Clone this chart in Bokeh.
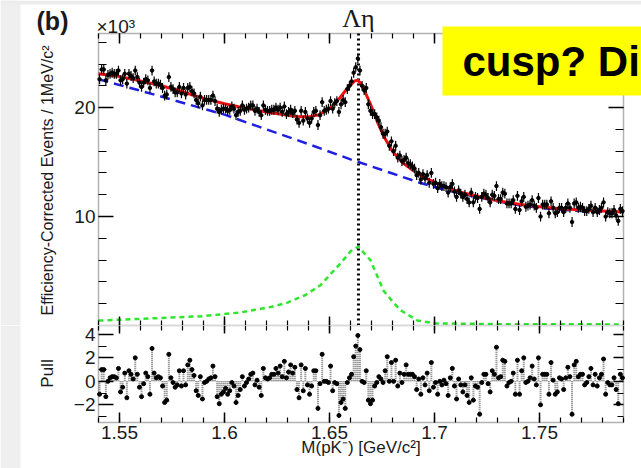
import numpy as np
from bokeh.plotting import figure
from bokeh.models import Range1d, LinearAxis, FixedTicker, Label, BoxAnnotation, ColumnDataSource
from bokeh.layouts import column
from bokeh.embed import file_html
from bokeh.resources import INLINE

# ---------------- data ----------------
bin_low = 1.540      # GeV/c^2, left edge of first bin
bin_width = 0.001    # 1 MeV bins

# efficiency-corrected events per MeV (x10^3)
counts = [
    22.6, 23.5, 23.5, 22.5, 23.0, 23.1, 23.2, 23.1, 23.1, 23.4, 22.5,
    22.6, 23.1, 22.2, 23.1, 22.9, 22.7, 23.4, 22.8, 22.3, 21.9, 22.3, 22.6, 22.5, 21.8, 23.4,
    22.4, 22.2, 22.2, 22.1, 21.8, 21.1, 21.2, 22.8, 21.9, 21.7,
    21.4, 21.4, 21.9, 21.3, 21.8, 21.2, 21.8, 21.9, 21.5, 21.3, 20.7, 20.4, 21.0, 20.2,
    20.7, 20.7, 20.7, 20.7, 21.1, 20.6, 19.9, 19.6, 19.8, 19.9, 19.9,
    19.7, 19.8, 20.1, 19.9, 19.3, 19.6, 19.7, 20.2, 19.8, 19.9, 20.0, 20.2, 20.2, 19.7, 19.9, 19.6,
    19.3, 20.2, 19.8, 19.7, 19.7, 19.8, 19.8, 20.0, 19.8, 20.0, 19.6, 20.1, 19.4, 19.6, 19.8, 19.5,
    19.7, 18.9, 18.6, 19.7, 18.8, 19.6, 19.0, 18.6,
    19.0, 19.6, 19.7, 18.4, 19.3,
    20.5, 19.7, 19.8, 19.9, 20.6, 19.9,
    20.4, 20.6, 19.6, 20.3, 20.7,
    20.5, 21.7, 22.0, 22.4, 23.2,
    23.7, 24.5,
    23.4, 22.0, 21.6, 21.8,
    20.3, 19.7, 19.4, 19.4, 19.1,
    18.8, 18.2, 17.6,
    17.6, 17.8, 16.5,
    16.9, 16.0, 16.5, 15.4, 15.6,
    15.1, 15.2, 15.4, 14.9, 14.8, 14.6, 14.4,
    13.8, 14.0, 13.4, 13.9, 13.5, 13.8,
    13.1, 14.0, 13.0, 13.1, 12.6, 13.0, 12.8, 12.8,
    12.7, 12.2, 12.7, 13.0, 12.3, 11.8, 12.4, 12.1, 11.8,
    12.0, 11.6, 11.3, 12.2, 11.3, 11.8, 11.7, 10.7, 11.8, 12.1, 12.0, 11.7, 11.3,
    12.0, 11.9, 12.8, 11.6, 11.6, 12.2, 12.1, 11.2, 11.2, 11.2, 11.5, 10.7, 11.9, 10.6, 11.4,
    11.8, 10.9, 11.0, 11.1, 11.5, 11.0, 10.8, 11.7, 10.0, 11.1, 11.1, 11.1, 10.3, 11.4, 10.8,
    10.3, 10.4, 10.8, 10.8,
    10.4, 10.8, 11.2, 10.8, 9.5, 11.2, 11.3, 10.8, 10.9, 10.8, 10.5, 10.5, 10.7, 11.0, 10.4,
    10.8, 10.4, 10.6, 10.8, 11.3, 10.0, 10.4, 10.3, 10.3, 10.6, 10.1, 9.6, 10.7, 10.5,
]
count_err = 0.45  # typical error bar half-length (x10^3)

pulls = [
    -1.1, 1.0, 1.0, -1.3, 0.0, 0.3, 0.4, 0.4, 0.3, 1.1,
    -0.9, -0.5, 0.7, -1.4, 0.9, 0.6, 0.2, 2.0, 0.6, -0.5, -1.3,
    -0.2, 0.7, 0.4, -1.1, 2.8, 0.7, 0.3, 0.4, 0.3, -0.4, -1.8,
    -1.6, 2.3, 0.3, -0.1, -0.5, -0.3, 0.9, -0.4, 0.9, -0.3,
    1.4, 1.8, 1.0, 0.5, -0.8, -1.2, 0.4, -1.5, -0.1, 0.0, 0.2,
    0.3, 1.3, 0.4, -1.3, -1.9, -1.1, -0.9, -0.6, -1.1, -0.8, -0.1,
    -0.4, -1.8, -1.2, -0.7, 0.4, -0.4, -0.1, 0.2, 0.6, 0.7,
    -0.3, 0.1, -0.5, -1.2, 1.1, 0.3, 0.2, 0.3, 0.6, 0.6, 1.1,
    0.7, 1.3, 0.4, 1.7, 0.3, 0.8, 1.4, 0.7, 1.2, -0.7, -1.4,
    1.4, -0.8, 1.1, -0.3, -1.1, -0.4, 0.9, 0.9, -2.3, -0.2, 2.3,
    0.0, 0.0, -0.1, 1.3, -0.8, -0.1, -0.2, -2.9, -1.8, -1.5,
    -2.3, -0.1, 0.3, 0.6, 2.1, 3.0, 3.9,
    2.7, 0.0, -0.1, 0.9, -1.6, -1.9, -1.6, -0.4, -0.1, 0.4,
    0.2, -0.1, 0.9, 2.1, 0.0, 1.6, 0.0, 1.8, -0.4, 0.7,
    -0.1, 0.6, 1.4, 0.6, 0.6, 0.6, 0.4, -0.7, 0.2, -1.1, 0.3,
    -0.3, 0.7, -0.8, 1.6, -0.5, -0.1, -1.1, 0.0, -0.3, 0.1,
    -0.2, -1.2, 0.3, 1.1, -0.4, -1.5, 0.2, -0.3, -0.9, -0.3,
    -1.2, -1.8, 0.3, -1.6, -0.4, -0.5, -2.8, -0.1, 0.6, 0.6, -0.2,
    -0.9, 0.9, 0.6, 2.9, 0.3, 0.4, 1.8, 1.7, -0.4, -0.1,
    0.0, 0.7, -1.1, 1.8, -1.1, 0.9, 2.0, -0.1, 0.0, 0.3,
    1.3, 0.2, -0.3, 2.0, -2.0, 0.6, 0.6, 0.6, -1.1, 1.6, 0.1,
    -1.1, -0.9, 0.3, 0.2, -0.7, 0.3, 1.2, 0.4, -2.8, 1.4,
    1.7, 0.4, 0.6, 0.6, -0.3, -0.1, 0.4, 1.1, -0.3, 0.6, -0.4,
    0.3, 0.6, 1.9, -1.1, -0.1, -0.3, -0.3, 0.3, -0.7, -1.9,
    0.6, 0.3,
]

# total fit (red)
fit_mass = [1.540, 1.550, 1.560, 1.570, 1.580, 1.590, 1.600, 1.610, 1.620, 1.630, 1.635,
            1.640, 1.645, 1.650, 1.655, 1.659, 1.662, 1.6635, 1.665, 1.667, 1.670, 1.673,
            1.676, 1.680, 1.685, 1.690, 1.696, 1.704, 1.713, 1.722, 1.730, 1.741, 1.750,
            1.760, 1.775, 1.790]
fit_total = [23.1, 22.85, 22.45, 22.0, 21.45, 20.85, 20.35, 19.95, 19.6, 19.3, 19.15,
             19.15, 19.35, 19.9, 20.9, 21.9, 22.45, 22.5, 22.2, 21.4, 20.1, 18.6,
             17.3, 16.0, 14.9, 14.2, 13.5, 12.8, 12.2, 11.8, 11.45, 11.1, 10.9,
             10.72, 10.55, 10.42]

# background (blue dashed)
bkg_mass = [1.540, 1.560, 1.580, 1.600, 1.620, 1.640, 1.660, 1.680, 1.693, 1.703, 1.713,
            1.722, 1.730, 1.741, 1.750, 1.760, 1.775, 1.790]
bkg_total = [22.6, 21.55, 20.45, 19.35, 18.0, 16.65, 15.25, 13.95, 13.1, 12.55, 12.1,
             11.72, 11.4, 11.02, 10.8, 10.62, 10.45, 10.32]

# signal (green dashed)
sig_mass = [1.540, 1.565, 1.589, 1.6076, 1.622, 1.630, 1.6386, 1.6457, 1.6552, 1.660,
            1.6638, 1.6662, 1.6695, 1.6757, 1.680, 1.6838, 1.6919, 1.700, 1.731, 1.790]
sig_total = [0.45, 0.65, 0.85, 1.2, 1.7, 2.1, 2.8, 3.7, 5.7, 6.8,
             7.25, 6.7, 6.0, 3.2, 2.2, 1.4, 0.46, 0.2, 0.12, 0.1]

threshold = 1.6638  # Lambda-eta threshold

x_ticks = [1.55, 1.60, 1.65, 1.70, 1.75]
x_tick_labels = ["1.55", "1.6", "1.65", "1.7", "1.75"]
x_minor = [round(1.54 + 0.01 * k, 2) for k in range(26)]
y_ticks = [10, 20]
y_tick_labels = ["10", "20"]
y_minor = list(range(2, 27, 2))
pull_ticks = [-2, 0, 2, 4]
pull_tick_labels = ["\u22122", "0", "2", "4"]
pull_minor = [-3, -1, 1, 3]

# ---------------- layout (pixels) ----------------
W, H = 641, 468
FRAME_L, FRAME_R = 98, 623
UP_T, UP_B, LO_B = 33, 325, 422
x_lo, x_hi = 1.54, 1.79
y_lo, y_hi = 0.0, 26.8
p_lo, p_hi = -3.5, 4.75

sx = (FRAME_R - FRAME_L) / (x_hi - x_lo)
X0, X1 = x_lo - FRAME_L / sx, x_hi + (W - FRAME_R) / sx
sy1 = (UP_B - UP_T) / (y_hi - y_lo)
Y0, Y1 = y_lo, y_hi + UP_T / sy1
sy2 = (LO_B - UP_B) / (p_hi - p_lo)
P0, P1 = p_lo - (H - LO_B) / sy2, p_hi


def gx(px):
    return X0 + px / sx


def gy1(py):
    return Y1 - py / sy1


def gy2(py):
    return P1 - (py - UP_B) / sy2


FONT = "Liberation Sans"
TXT = "#1a1a1a"

mass = bin_low + bin_width * (np.arange(len(counts)) + 0.5)
cnt = np.array(counts)
pl = np.array(pulls)
src = ColumnDataSource(dict(mass=mass, cnt=cnt, lo=cnt - count_err, hi=cnt + count_err,
                            xl=mass - bin_width / 2, xr=mass + bin_width / 2,
                            pull=pl, zero=np.zeros_like(pl)))


def make_axis(loc, ticks, minor, tick_in, minor_in, labels=None, size="19px"):
    ax = LinearAxis(fixed_location=loc, ticker=FixedTicker(ticks=ticks, minor_ticks=minor))
    ax.major_tick_in = tick_in
    ax.major_tick_out = 0
    ax.minor_tick_in = minor_in
    ax.minor_tick_out = 0
    ax.axis_line_color = None
    ax.major_tick_line_color = "black"
    ax.major_tick_line_width = 1.5
    ax.minor_tick_line_color = "black"
    ax.minor_tick_line_width = 1.2
    ax.major_label_text_font = FONT
    ax.major_label_text_font_size = size
    ax.major_label_text_color = TXT
    ax.major_label_standoff = 3
    ax.major_label_overrides = {t: (l if labels else "") for t, l in
                                zip(ticks, labels if labels else ticks)}
    return ax


def base_fig(h, y0, y1):
    f = figure(width=W, height=h, x_range=Range1d(X0, X1), y_range=Range1d(y0, y1),
               x_axis_type=None, y_axis_type=None, output_backend="svg",
               toolbar_location=None, min_border=0, min_border_left=0, min_border_right=0,
               min_border_top=0, min_border_bottom=0)
    f.outline_line_color = None
    f.background_fill_color = "white"
    f.border_fill_color = "white"
    f.add_layout(BoxAnnotation(left=X0, right=gx(20), fill_color="#efefef", fill_alpha=1,
                               line_color=None, level="underlay"))
    return f


# ---------------- upper panel ----------------
p1 = base_fig(UP_B, Y0, Y1)
p1.add_layout(BoxAnnotation(bottom=gy1(4), fill_color="#ececec", fill_alpha=1,
                            line_color=None, level="underlay"))
p1.add_layout(make_axis(x_lo, y_ticks, y_minor, 15, 8, y_tick_labels), "left")
p1.add_layout(make_axis(x_hi, y_ticks, y_minor, 15, 8), "right")
p1.add_layout(make_axis(y_hi, x_ticks, x_minor, 10, 5), "above")
p1.add_layout(make_axis(y_lo, x_ticks, x_minor, 9, 5), "below")

p1.line(bkg_mass, bkg_total, line_color="#1f1fe0", line_width=2.5, line_dash="10 6")
p1.line(sig_mass, sig_total, line_color="#2ee62e", line_width=2.5, line_dash="5 4")
p1.segment(x0=[threshold], y0=[y_lo], x1=[threshold], y1=[y_hi], line_color="black",
           line_width=3, line_dash="2 3")
p1.line(fit_mass, fit_total, line_color="#ee1111", line_width=3)
p1.segment(x0="mass", y0="lo", x1="mass", y1="hi", source=src, line_color="black",
           line_width=1.2)
p1.segment(x0="xl", y0="cnt", x1="xr", y1="cnt", source=src, line_color="black",
           line_width=1.2)
p1.scatter("mass", "cnt", source=src, size=3.5, color="black")

p1.add_layout(BoxAnnotation(left=x_lo, right=x_hi, bottom=y_lo, top=y_hi, fill_color=None,
                            line_color="black", line_width=1.5))

p1.add_layout(Label(x=gx(47), y=gy1(180), angle=np.pi / 2,
                    text="Efficiency-Corrected Events / 1MeV/c\u00b2", text_font=FONT,
                    text_font_size="16px", text_align="center", text_baseline="middle",
                    text_color=TXT))
p1.add_layout(Label(x=gx(52), y=gy1(20), text="(b)", text_font=FONT, text_font_size="25px",
                    text_font_style="bold", text_align="center", text_baseline="middle",
                    text_color=TXT))
p1.add_layout(Label(x=gx(96), y=gy1(26), text="\u00d710\u00b3", text_font=FONT,
                    text_font_size="19px", text_align="left", text_baseline="middle",
                    text_color=TXT))
p1.add_layout(Label(x=threshold, y=gy1(18), text="\u039b\u03b7", text_font="Liberation Serif",
                    text_font_size="26px", text_align="center", text_baseline="middle",
                    text_color=TXT))
p1.add_layout(Label(x=gx(442), y=gy1(26), text="cusp? Di", text_font=FONT,
                    text_font_size="42px", text_font_style="bold", text_align="left",
                    text_baseline="top", text_color="black", background_fill_color="#ffff00",
                    padding=(20, 11)))

# ---------------- pull panel ----------------
p2 = base_fig(H - UP_B, P0, P1)
p2.add_layout(make_axis(x_lo, pull_ticks, pull_minor, 15, 8, pull_tick_labels), "left")
p2.add_layout(make_axis(x_hi, pull_ticks, pull_minor, 10, 6), "right")
p2.add_layout(make_axis(p_hi, x_ticks, x_minor, 8, 5), "above")
p2.add_layout(make_axis(p_lo, x_ticks, x_minor, 10, 5, x_tick_labels), "below")

p2.segment(x0="mass", y0="zero", x1="mass", y1="pull", source=src, line_color="#7a7a7a",
           line_width=2, line_dash="1 1")
p2.scatter("mass", "pull", source=src, size=4, color="black")
p2.add_layout(BoxAnnotation(left=x_lo, right=x_hi, bottom=p_lo, top=p_hi, fill_color=None,
                            line_color="black", line_width=1.5))

p2.add_layout(Label(x=gx(47), y=gy2(373), angle=np.pi / 2, text="Pull", text_font=FONT,
                    text_font_size="17px", text_align="center", text_baseline="middle",
                    text_color=TXT))
p2.add_layout(Label(x=(x_lo + x_hi) / 2, y=gy2(447), text="M(pK\u207b) [GeV/c\u00b2]",
                    text_font=FONT, text_font_size="17px", text_align="center",
                    text_baseline="middle", text_color=TXT))

layout = column(p1, p2, spacing=0)
open("out.html", "w").write(file_html(layout, INLINE))
